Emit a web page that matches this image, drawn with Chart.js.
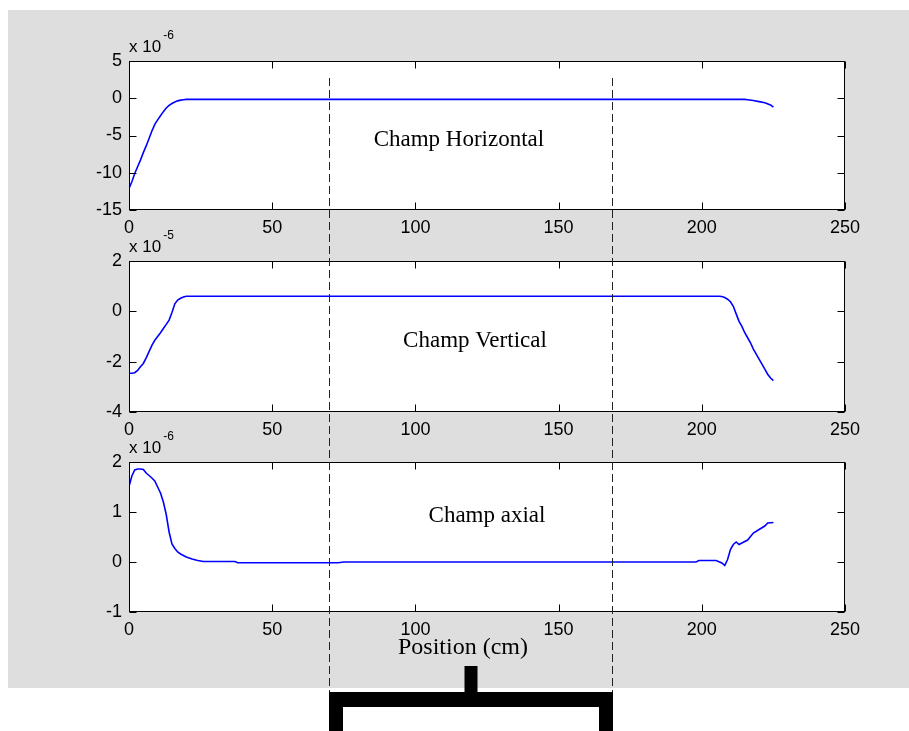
<!DOCTYPE html>
<html><head><meta charset="utf-8">
<script src="https://cdn.jsdelivr.net/npm/chart.js@4.4.0/dist/chart.umd.min.js"></script>
<style>
html,body{margin:0;padding:0;background:#fff;width:909px;height:731px;overflow:hidden;}
#bg{position:absolute;left:8px;top:10px;width:901px;height:678px;background:#dedede;}
canvas{position:absolute;left:0;top:0;}
</style></head><body>
<div id="bg"></div>
<canvas id="c1" width="909" height="731"></canvas>
<canvas id="c2" width="909" height="731"></canvas>
<canvas id="c3" width="909" height="731"></canvas>
<script>
// ---- data (position in cm, field values in units of the axis multiplier) ----
const xTicks = [0, 50, 100, 150, 200, 250];

const hTicks = [5, 0, -5, -10, -15];          // x 10^-6
const xH = [0,1,2,3,4,5,6,7,8,9,10,11,12,13,14,15,16,17,18,19,20,215,216,218,220,222,224,225];
const hField = [-12.1,-11.2,-10.1,-9.2,-8.3,-7.3,-6.4,-5.4,-4.4,-3.5,-2.9,-2.35,-1.8,-1.3,-0.95,-0.7,-0.5,-0.35,-0.25,-0.2,-0.15,-0.15,-0.2,-0.3,-0.45,-0.6,-0.9,-1.2];

const vTicks = [2, 0, -2, -4];                 // x 10^-5
const xV = [0,1,2,3,4,5,6,7,8,9,10,11,12,13,14,15,16,17,18,19,20,206,207,208,209,210,211,212,213,214,215,216,217,218,219,220,221,222,223,224,225];
const vField = [-2.46,-2.46,-2.44,-2.35,-2.2,-2.07,-1.85,-1.6,-1.35,-1.15,-1.0,-0.85,-0.68,-0.52,-0.35,-0.05,0.3,0.45,0.52,0.57,0.6,0.6,0.59,0.55,0.48,0.38,0.2,-0.1,-0.4,-0.6,-0.85,-1.05,-1.25,-1.5,-1.7,-1.9,-2.1,-2.3,-2.5,-2.65,-2.75];

const aTicks = [2, 1, 0, -1];                  // x 10^-6
const xA = [0,1,2,3,4,5,6,7,8,9,10,11,12,13,14,15,16,17,18,19,20,22,24,26,37,38,73,75,198,199,205,207,208,209,210,211,212,213,214,216,218,220,222,223,225];
const aField = [1.51,1.72,1.84,1.86,1.86,1.85,1.78,1.73,1.68,1.62,1.5,1.38,1.2,0.95,0.6,0.36,0.27,0.2,0.16,0.13,0.1,0.06,0.03,0.01,0.01,-0.015,-0.015,0,0,0.03,0.03,-0.02,-0.07,0.05,0.25,0.35,0.4,0.35,0.38,0.44,0.58,0.65,0.72,0.78,0.79];

const markers = [70, 168.5];                   // dashed marker positions (cm)
const notes = ['Champ Horizontal', 'Champ Vertical', 'Champ axial'];
const notePos = [[115.2, -5.5], [120.8, -1.14], [125, 0.94]];
const exps = ['-6', '-5', '-6'];
const xTitle = 'Position (cm)';
const xTitlePos = 116.6;

// ---- drawing ----
const SANS = '"Liberation Sans", Arial, sans-serif';
const SERIF = '"Liberation Serif", "Times New Roman", serif';

const framePlugin = {
  id: 'frame',
  beforeDraw(chart) {
    const {ctx, chartArea: a} = chart;
    ctx.save();
    ctx.fillStyle = '#fff';
    ctx.fillRect(a.left, a.top, a.right - a.left, a.bottom - a.top);
    ctx.restore();
  },
  afterDraw(chart) {
    const {ctx, chartArea: a, scales} = chart;
    const o = chart.options.plugins.frame;
    ctx.save();
    ctx.strokeStyle = '#000';
    ctx.lineWidth = 1;
    const L = Math.round(a.left) + 0.5, R = Math.round(a.right) - 0.5;
    const T = Math.round(a.top) + 0.5, B = Math.round(a.bottom) - 0.5;
    ctx.strokeRect(L, T, R - L, B - T);
    ctx.beginPath();
    const tl = 7;
    scales.x.ticks.forEach(t => {
      const p = Math.round(scales.x.getPixelForValue(t.value)) + 0.5;
      ctx.moveTo(p, B); ctx.lineTo(p, B - tl);
      ctx.moveTo(p, T); ctx.lineTo(p, T + tl);
    });
    scales.y.ticks.forEach(t => {
      const p = Math.round(scales.y.getPixelForValue(t.value)) + 0.5;
      ctx.moveTo(L, p); ctx.lineTo(L + tl, p);
      ctx.moveTo(R, p); ctx.lineTo(R - tl, p);
    });
    ctx.stroke();
    // axis multiplier
    ctx.fillStyle = '#000';
    ctx.textAlign = 'left';
    ctx.textBaseline = 'alphabetic';
    ctx.font = '17px ' + SANS;
    ctx.fillText('x 10', a.left, a.top - 9);
    const w = ctx.measureText('x 10').width;
    ctx.font = '12px ' + SANS;
    ctx.fillText(o.exp, a.left + w + 2, a.top - 22);
    // annotation
    ctx.font = '23px ' + SERIF;
    ctx.textAlign = 'center';
    ctx.textBaseline = 'middle';
    ctx.fillText(o.note, scales.x.getPixelForValue(o.noteX), scales.y.getPixelForValue(o.noteY) + 1);
    if (o.title) {
      ctx.font = '24px ' + SERIF;
      ctx.fillText(o.title, scales.x.getPixelForValue(o.titleX), 648);
    }
    if (o.markers) {
      // dashed markers across the whole figure
      ctx.setLineDash([8, 4]);
      ctx.strokeStyle = '#222';
      ctx.beginPath();
      const px = o.markers.map(m => Math.round(scales.x.getPixelForValue(m)) + 0.5);
      px.forEach(p => { ctx.moveTo(p, 78); ctx.lineTo(p, 731); });
      ctx.stroke();
      ctx.setLineDash([]);
      // bracket
      const xl = px[0] - 0.5, xr = px[1] + 0.5, mid = (xl + xr) / 2;
      ctx.fillStyle = '#000';
      ctx.fillRect(xl, 692, xr - xl, 15);
      ctx.fillRect(xl, 692, 14, 39);
      ctx.fillRect(xr - 14, 692, 14, 39);
      ctx.fillRect(mid - 6.5, 666, 13, 27);
    }
    ctx.restore();
  }
};

function makeChart(id, xs, ys, yTicks, idx, padTop, extra) {
  const pts = xs.map((x, i) => ({x: x, y: ys[i]}));
  const yMin = Math.min(...yTicks), yMax = Math.max(...yTicks);
  return new Chart(document.getElementById(id), {
    type: 'line',
    data: { datasets: [{ data: pts, borderColor: '#0000ff', borderWidth: 1.6, pointRadius: 0, fill: false, tension: 0 }] },
    options: {
      responsive: false, animation: false, devicePixelRatio: 1, events: [],
      layout: { padding: { left: 79, right: 64, top: padTop, bottom: 731 - padTop - (id === 'c1' ? 149 : id === 'c2' ? 151 : 150) - 30 } },
      plugins: {
        legend: { display: false }, tooltip: { enabled: false },
        frame: Object.assign({ exp: exps[idx], note: notes[idx], noteX: notePos[idx][0], noteY: notePos[idx][1] }, extra || {})
      },
      scales: {
        x: {
          type: 'linear', min: 0, max: 250,
          afterBuildTicks: s => { s.ticks = xTicks.map(v => ({value: v})); },
          afterFit: s => { s.height = 30; },
          grid: { display: false, drawTicks: false }, border: { display: false },
          ticks: { color: '#000', font: { family: SANS, size: 18 }, padding: 7, maxRotation: 0, callback: v => String(v) }
        },
        y: {
          type: 'linear', min: yMin, max: yMax,
          afterBuildTicks: s => { s.ticks = yTicks.map(v => ({value: v})); },
          afterFit: s => { s.width = 50; },
          grid: { display: false, drawTicks: false }, border: { display: false },
          ticks: { color: '#000', font: { family: SANS, size: 18 }, padding: 7, callback: v => String(v) }
        }
      }
    },
    plugins: [framePlugin]
  });
}

makeChart('c1', xH, hField, hTicks, 0, 61);
makeChart('c2', xV, vField, vTicks, 1, 261);
makeChart('c3', xA, aField, aTicks, 2, 462, { markers: markers, title: xTitle, titleX: xTitlePos });
</script>
</body></html>
